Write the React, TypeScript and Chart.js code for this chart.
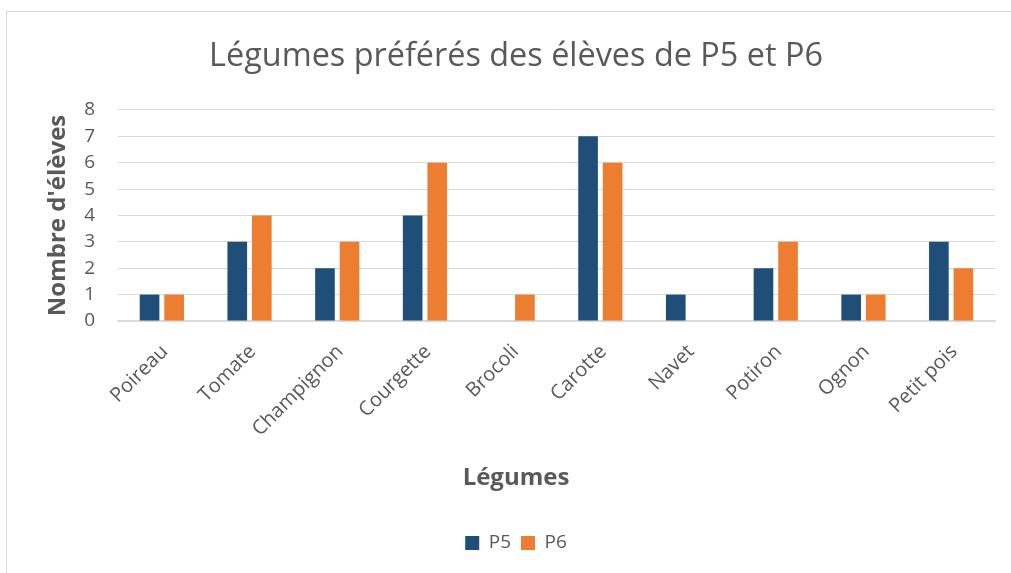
import React, { useEffect, useRef } from "react";
import { Chart, registerables } from "chart.js";

Chart.register(...registerables);

const categories = ["Poireau", "Tomate", "Champignon", "Courgette", "Brocoli", "Carotte", "Navet", "Potiron", "Ognon", "Petit pois"];
const p5Values = [1, 3, 2, 4, 0, 7, 1, 2, 1, 3];
const p6Values = [1, 4, 3, 6, 1, 6, 0, 3, 1, 2];
const chartTitle = "Légumes préférés des élèves de P5 et P6";
const xTitle = "Légumes";
const yTitle = "Nombre d'élèves";

const TEXT = "#595959";
const GRID = "#D9D9D9";
const FONT = "'Open Sans', 'Noto Sans', sans-serif";

const framePlugin = {
  id: "frame",
  beforeDraw(chart: any) {
    const ctx = chart.ctx;
    ctx.save();
    ctx.fillStyle = "#ffffff";
    ctx.fillRect(0, 0, chart.width, chart.height);
    ctx.strokeStyle = GRID;
    ctx.lineWidth = 1;
    ctx.strokeRect(6.5, 11.5, chart.width + 20, chart.height + 20);
    ctx.restore();
  },
  afterDraw(chart: any) {
    // x-axis title, centred on the whole chart like the original
    const ctx = chart.ctx;
    ctx.save();
    ctx.fillStyle = TEXT;
    ctx.font = `bold 24px ${FONT}`;
    ctx.textAlign = "center";
    ctx.textBaseline = "middle";
    ctx.fillText(xTitle, 516, 478);
    ctx.restore();
  },
};

export default function App() {
  const ref = useRef<HTMLCanvasElement | null>(null);
  useEffect(() => {
    if (!ref.current) return;
    const chart = new Chart(ref.current, {
      type: "bar",
      data: {
        labels: categories,
        datasets: [
          { label: "P5", data: p5Values, backgroundColor: "#1F4E79" },
          { label: "P6", data: p6Values, backgroundColor: "#ED7D31" },
        ],
      },
      plugins: [framePlugin],
      options: {
        responsive: false,
        animation: false,
        datasets: { bar: { categoryPercentage: 0.56, barPercentage: 0.8 } },
        layout: { padding: { left: 37, right: 16, top: 0, bottom: 10.5 } },
        plugins: {
          title: {
            display: true,
            text: chartTitle,
            color: TEXT,
            font: { family: FONT, size: 32.4, weight: "normal" },
            padding: { top: 37.6, bottom: 33.5 },
          },
          legend: {
            position: "bottom",
            labels: {
              color: TEXT,
              boxWidth: 14,
              boxHeight: 14,
              padding: 10,
              font: { family: FONT, size: 19 },
            },
          },
          tooltip: { enabled: false },
        },
        scales: {
          x: {
            grid: { display: false, drawTicks: false },
            border: { display: true, color: GRID, width: 1.5 },
            ticks: {
              color: TEXT,
              font: { family: FONT, size: 20 },
              minRotation: 45,
              maxRotation: 45,
              padding: 19,
              labelOffset: 3,
              autoSkip: false,
            },
            title: { display: false },
            afterFit: (s: any) => { s.height = 202.5; },
          },
          y: {
            min: 0,
            max: 8,
            grid: { color: GRID, drawTicks: false, lineWidth: 1 },
            border: { display: false },
            ticks: {
              stepSize: 1,
              color: TEXT,
              font: { family: FONT, size: 19 },
              padding: 23,
            },
            title: {
              display: true,
              text: yTitle,
              color: TEXT,
              font: { family: FONT, size: 24, weight: "bold" },
              padding: { top: 6.6, bottom: 0 },
            },
            afterFit: (s: any) => { s.width = 81; },
          },
        },
      },
    });
    return () => chart.destroy();
  }, []);
  return (
    <div style={{ position: "fixed", left: 0, top: 0, width: 1011, height: 573 }}>
      <canvas ref={ref} width={1011} height={573} style={{ display: "block" }} />
    </div>
  );
}
